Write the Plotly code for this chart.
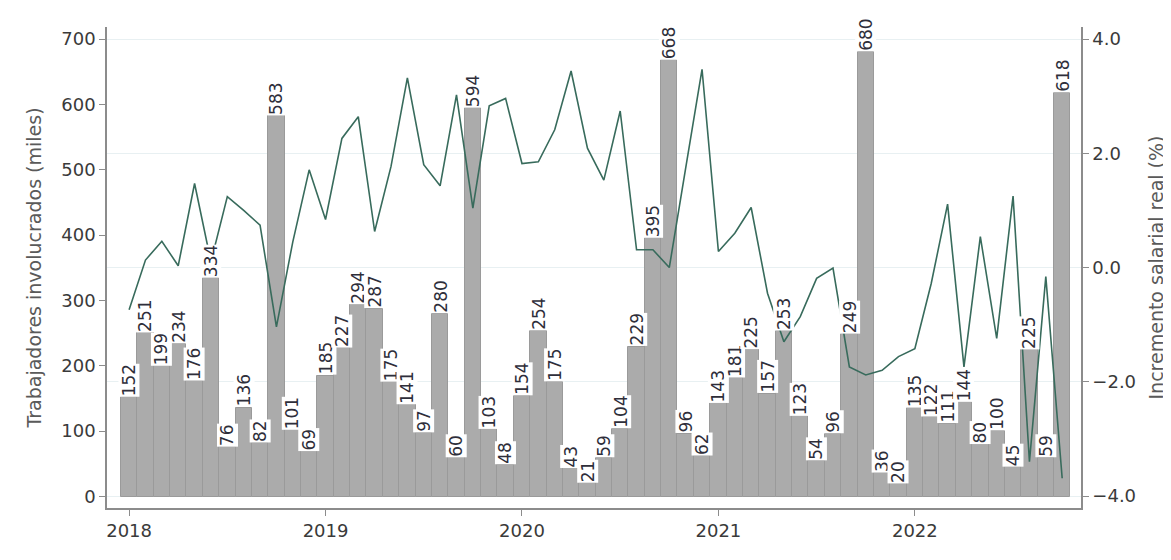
import plotly.graph_objects as go

# ---- data ----
years = ["2018", "2019", "2020", "2021", "2022"]
year_start_index = [0, 12, 24, 36, 48]

trabajadores = [
    152, 251, 199, 234, 176, 334, 76, 136, 82, 583, 101, 69,      # 2018
    185, 227, 294, 287, 175, 141, 97, 280, 60, 594, 103, 48,      # 2019
    154, 254, 175, 43, 21, 59, 104, 229, 395, 668, 96, 62,        # 2020
    143, 181, 225, 157, 253, 123, 54, 96, 249, 680, 36, 20,       # 2021
    135, 122, 111, 144, 80, 100, 45, 225, 59, 618,                # 2022
]

salario_real = [
    -0.74, 0.13, 0.46, 0.03, 1.47, 0.10, 1.24, 1.00, 0.74, -1.04, 0.45, 1.71,
    0.84, 2.26, 2.64, 0.63, 1.77, 3.32, 1.80, 1.43, 3.02, 1.04, 2.83, 2.96,
    1.82, 1.85, 2.41, 3.44, 2.09, 1.53, 2.74, 0.31, 0.31, 0.00, 1.74, 3.47,
    0.28, 0.60, 1.05, -0.45, -1.30, -0.86, -0.19, -0.01, -1.74, -1.88, -1.80, -1.56,
    -1.42, -0.28, 1.11, -1.74, 0.54, -1.24, 1.25, -3.40, -0.16, -3.69,
]

y1_ticks = [0, 100, 200, 300, 400, 500, 600, 700]
y2_ticks = [-4.0, -2.0, 0.0, 2.0, 4.0]

x_idx = list(range(len(trabajadores)))

FONT = "DejaVu Sans"
TXT = "#3a3a3a"
AX = "#8c8c8c"

fig = go.Figure()

fig.add_trace(go.Bar(
    x=x_idx, y=trabajadores,
    marker=dict(color="#ababab", line=dict(color="#9a9a9a", width=1)),
    width=1.0,
    yaxis="y", showlegend=False, hoverinfo="skip",
))

fig.add_trace(go.Scatter(
    x=x_idx, y=salario_real, mode="lines",
    line=dict(color="#386b5c", width=1.6),
    yaxis="y2", showlegend=False,
))

for xi, v in zip(x_idx, trabajadores):
    fig.add_annotation(
        x=xi, y=v, xref="x", yref="y", text=str(v), showarrow=False,
        textangle=-90, yanchor="bottom", xanchor="center",
        bgcolor="white", borderpad=0,
        font=dict(family=FONT, size=17, color="#2e2e3a"),
    )

# faint outer frame
fig.add_shape(type="rect", xref="paper", yref="paper",
              x0=-0.1037, x1=1.12, y0=-0.2, y1=1.0416,
              line=dict(color="#eeeeee", width=1), layer="below")

# page body has an 8px default margin -> compensate in the figure size
fig.update_layout(
    width=1163, height=552,
    margin=dict(l=99, r=90, t=19, b=52, autoexpand=False),
    plot_bgcolor="white", paper_bgcolor="white",
    bargap=0,
    font=dict(family=FONT, size=18, color=TXT),
    xaxis=dict(
        range=[-1.35, 58.15], automargin=False,
        tickmode="array", tickvals=year_start_index, ticktext=years,
        ticks="outside", ticklen=6, tickcolor=AX,
        showline=True, linecolor=AX, linewidth=1.5,
        showgrid=False, zeroline=False,
        tickfont=dict(family=FONT, size=18, color=TXT),
    ),
    yaxis=dict(
        range=[-17.6, 718.4], automargin=False,
        tickmode="array", tickvals=y1_ticks,
        ticks="outside", ticklen=6, tickcolor=AX,
        showline=True, linecolor=AX, linewidth=1.5,
        showgrid=False, zeroline=False,
        title=dict(text="Trabajadores involucrados (miles)",
                   font=dict(family=FONT, size=19, color="#5a5a5a")),
        tickfont=dict(family=FONT, size=18, color=TXT),
    ),
    yaxis2=dict(
        overlaying="y", side="right", automargin=False,
        range=[-4.21, 4.21],
        tickmode="array", tickvals=y2_ticks, tickformat=".1f",
        ticks="outside", ticklen=6, tickcolor=AX,
        showline=True, linecolor=AX, linewidth=1.5,
        showgrid=True, gridcolor="#e8f0f2", gridwidth=1,
        zeroline=False,
        title=dict(text="Incremento salarial real (%)",
                   font=dict(family=FONT, size=19, color="#5a5a5a")),
        tickfont=dict(family=FONT, size=18, color=TXT),
    ),
)

fig.write_html("out.html")
